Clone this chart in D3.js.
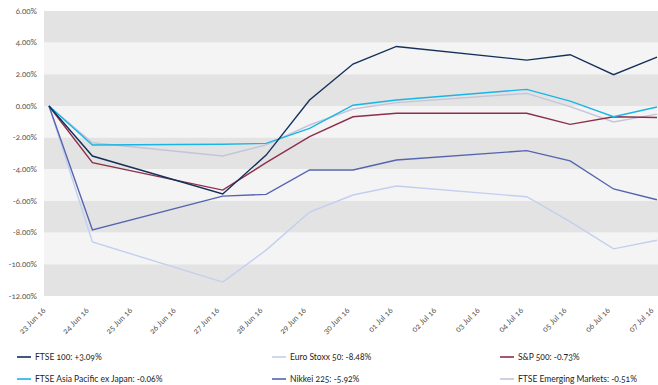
<!DOCTYPE html>
<html>
<head>
<meta charset="utf-8">
<script src="https://cdnjs.cloudflare.com/ajax/libs/d3/7.8.5/d3.min.js"></script>
<style>
  body { margin:0; background:#fff; }
  svg text { font-family: Lato, "Open Sans", sans-serif; font-variant-numeric: oldstyle-nums; }
</style>
</head>
<body>
<svg id="chart" width="658" height="385"></svg>
<script>
// trading days (weekends carry no data)
var dates = ["2016-06-23","2016-06-24","2016-06-27","2016-06-28","2016-06-29","2016-06-30",
             "2016-07-01","2016-07-04","2016-07-05","2016-07-06","2016-07-07"]

var ftse100     = [0, -3.16, -5.56, -3.10, 0.38, 2.65, 3.76, 2.90, 3.24, 1.98, 3.09]
var euroStoxx   = [0, -8.59, -11.12, -9.10, -6.70, -5.62, -5.05, -5.73, -7.30, -9.02, -8.48]
var sp500       = [0, -3.58, -5.31, -3.58, -1.94, -0.68, -0.46, -0.46, -1.16, -0.68, -0.73]
var asiaPac     = [0, -2.46, -2.42, -2.36, -1.41, 0.05, 0.38, 1.05, 0.31, -0.68, -0.06]
var nikkei      = [0, -7.83, -5.69, -5.58, -4.04, -4.04, -3.41, -2.82, -3.47, -5.24, -5.92]
var emerging    = [0, -2.32, -3.16, -2.46, -1.20, -0.19, 0.21, 0.80, -0.04, -1.01, -0.51]

var seriesNames = ["FTSE 100: +3.09%", "Euro Stoxx 50: -8.48%", "S&P 500: -0.73%",
                   "FTSE Asia Pacific ex Japan: -0.06%", "Nikkei 225: -5.92%", "FTSE Emerging Markets: -0.51%"]
var seriesColors = ["#14305a", "#c3cff0", "#8c2f4a", "#19b5e5", "#5564ae", "#c3c5da"]
var yTicks = [6, 4, 2, 0, -2, -4, -6, -8, -10, -12]

var svg = d3.select('#chart')
var parse = d3.timeParse('%Y-%m-%d')

var x = d3.scaleTime()
  .domain([parse("2016-06-23"), parse("2016-07-07")])
  .range([49, 657])
var y = d3.scaleLinear().domain([-12, 6]).range([296, 11])

// alternating bands
var bands = d3.range(yTicks.length - 1).map(function(i){ return {top: yTicks[i], bot: yTicks[i+1], i: i} })
svg.selectAll('rect.band').data(bands).enter().append('rect')
  .attr('class','band')
  .attr('x', 44)
  .attr('width', 658 - 44)
  .attr('y', function(d){ return y(d.top) })
  .attr('height', function(d){ return y(d.bot) - y(d.top) })
  .attr('fill', function(d){ return d.i % 2 == 0 ? '#e3e3e3' : '#f4f4f4' })

// y labels
svg.selectAll('text.ylab').data(yTicks).enter().append('text')
  .attr('class','ylab')
  .attr('x', 37)
  .attr('y', function(d){ return y(d) })
  .attr('dy', '0.35em')
  .attr('text-anchor','end')
  .attr('font-size', '8px')
  .attr('fill', '#555')
  .text(function(d){ return d.toFixed(2) + '%' })

// x axis labels (every calendar day)
var fmt = d3.timeFormat('%d %b %y')
svg.selectAll('text.xlab').data(x.ticks(d3.timeDay.every(1))).enter().append('text')
  .attr('class','xlab')
  .attr('transform', function(d){ return 'translate(' + (x(d) - 3) + ',311) rotate(-45)' })
  .attr('text-anchor','end')
  .attr('font-size', '8px')
  .attr('fill', '#555')
  .text(function(d){ return fmt(d) })

var allSeries = [ftse100, euroStoxx, sp500, asiaPac, nikkei, emerging]
var line = d3.line()
  .x(function(d, i){ return x(parse(dates[i])) })
  .y(function(d){ return y(d) })

// draw light ones first so dark lines sit on top
var order = [1, 5, 4, 2, 3, 0]
order.forEach(function(k){
  svg.append('path')
    .attr('d', line(allSeries[k]))
    .attr('fill','none')
    .attr('stroke', seriesColors[k])
    .attr('stroke-width', 1.4)
})

// legend
var legX = [17, 272, 500]
var legY = [357, 379]
var leg = svg.selectAll('g.leg').data(seriesNames).enter().append('g')
  .attr('class','leg')
  .attr('transform', function(d, i){ return 'translate(' + legX[i % 3] + ',' + legY[Math.floor(i/3)] + ')' })
leg.append('line').attr('x1', 0).attr('x2', 14).attr('y1', 0).attr('y2', 0)
  .attr('stroke', function(d, i){ return seriesColors[i] }).attr('stroke-width', 1.6)
leg.append('text').attr('x', 18).attr('dy', '0.35em')
  .attr('font-size', '8.5px').attr('fill', '#222')
  .text(function(d){ return d })
</script>
</body>
</html>
